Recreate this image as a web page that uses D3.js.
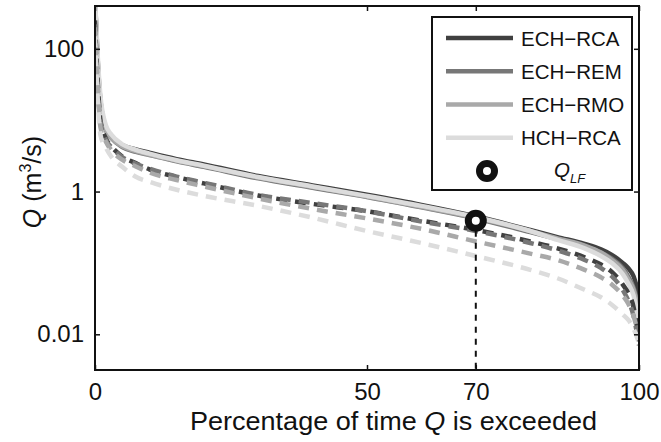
<!DOCTYPE html>
<html>
<head>
<meta charset="utf-8">
<script src="https://d3js.org/d3.v7.min.js"></script>
<style>
  body { margin: 0; background: #fff; }
  svg text { font-family: "Liberation Sans", Arial, sans-serif; fill: #111; }
</style>
</head>
<body>
<div id="chart"></div>
<script>
// Percentage of time Q is exceeded (x values shared by all curves)
const pct = [0, 0.5, 1, 2, 3, 5, 7.5, 10, 15, 20, 30, 40, 50, 60, 70, 80, 85, 90, 93, 95, 97, 98, 99, 100];

// Solid curves (legend series), Q in m3/s
const echRca = [500, 70, 19, 7.8, 6.0, 4.5, 3.9, 3.5, 2.85, 2.4, 1.65, 1.22, 0.9, 0.65, 0.45, 0.29, 0.23, 0.185, 0.155, 0.13, 0.1, 0.085, 0.065, 0.035];
const echRem = [450, 60, 17, 7.2, 5.6, 4.2, 3.6, 3.25, 2.65, 2.22, 1.53, 1.13, 0.84, 0.6, 0.42, 0.27, 0.215, 0.17, 0.14, 0.115, 0.085, 0.065, 0.045, 0.022];
const echRmo = [480, 65, 18, 7.4, 5.7, 4.3, 3.7, 3.3, 2.7, 2.27, 1.57, 1.16, 0.85, 0.61, 0.43, 0.28, 0.22, 0.175, 0.14, 0.11, 0.08, 0.06, 0.042, 0.02];
const hchRca = [520, 80, 22, 8.5, 6.3, 4.6, 3.85, 3.4, 2.75, 2.3, 1.6, 1.18, 0.87, 0.63, 0.44, 0.28, 0.21, 0.16, 0.125, 0.1, 0.07, 0.052, 0.035, 0.015];

// Dashed curves (same models, second period)
const echRcaF = [250, 35, 10, 5.5, 4.3, 3.1, 2.5, 2.05, 1.6, 1.3, 0.88, 0.67, 0.53, 0.39, 0.29, 0.2, 0.16, 0.12, 0.095, 0.075, 0.05, 0.038, 0.024, 0.008];
const echRemF = [220, 30, 9.5, 5.3, 4.2, 3.05, 2.45, 2.1, 1.62, 1.33, 0.9, 0.69, 0.53, 0.38, 0.28, 0.19, 0.15, 0.11, 0.085, 0.065, 0.042, 0.03, 0.018, 0.007];
const echRmoF = [200, 28, 8, 5.0, 3.8, 2.8, 2.25, 1.85, 1.45, 1.18, 0.8, 0.57, 0.42, 0.3, 0.2, 0.135, 0.11, 0.08, 0.063, 0.05, 0.035, 0.027, 0.018, 0.009];
const hchRcaF = [150, 20, 6.2, 4.1, 3.07, 2.22, 1.61, 1.37, 1.06, 0.87, 0.63, 0.43, 0.28, 0.19, 0.125, 0.08, 0.061, 0.042, 0.033, 0.026, 0.019, 0.016, 0.012, 0.0075];

const seriesNames = ['ECH\u2212RCA', 'ECH\u2212REM', 'ECH\u2212RMO', 'HCH\u2212RCA'];
const solidSeries = [echRca, echRem, echRmo, hchRca];
const dashedSeries = [echRcaF, echRemF, echRmoF, hchRcaF];

// Low-flow point
const qlfPct = 70;
const qlfValue = 0.39;

const xTicks = [0, 50, 70, 100];
const yTicks = [100, 1, 0.01];

const colors = ['#404040', '#777777', '#a9a9a9', '#dcdcdc'];

const width = 661, height = 442;
const margin = { top: 6, right: 22, bottom: 72, left: 95 };
const plotW = width - margin.left - margin.right;
const plotH = height - margin.top - margin.bottom;

const svg = d3.select('#chart').append('svg')
    .attr('width', width)
    .attr('height', height)
    .attr('viewBox', `0 0 ${width} ${height}`);

const x = d3.scaleLinear().domain([0, 100]).range([0, plotW]);
const y = d3.scaleLog().domain([0.00316, 398]).range([plotH, 0]);

const g = svg.append('g').attr('transform', `translate(${margin.left},${margin.top})`);

g.append('clipPath').attr('id', 'plot-clip')
  .append('rect').attr('width', plotW).attr('height', plotH);

const line = d3.line()
    .x(d => x(d[0]))
    .y(d => y(d[1]))
    .curve(d3.curveMonotoneX);

const curves = g.append('g').attr('clip-path', 'url(#plot-clip)');

solidSeries.forEach((vals, i) => {
    curves.append('path')
        .datum(pct.map((p, k) => [p, vals[k]]))
        .attr('d', line)
        .attr('fill', 'none')
        .attr('stroke', colors[i])
        .attr('stroke-width', 4.5);
});

dashedSeries.forEach((vals, i) => {
    curves.append('path')
        .datum(pct.map((p, k) => [p, vals[k]]))
        .attr('d', line)
        .attr('fill', 'none')
        .attr('stroke', colors[i])
        .attr('stroke-width', 4.5)
        .attr('stroke-dasharray', '11,8');
});

// Low-flow marker with drop line
g.append('line')
    .attr('x1', x(qlfPct)).attr('x2', x(qlfPct))
    .attr('y1', y(qlfValue) + 10).attr('y2', plotH)
    .attr('stroke', '#111')
    .attr('stroke-width', 2)
    .attr('stroke-dasharray', '6,6');

g.append('circle')
    .attr('cx', x(qlfPct)).attr('cy', y(qlfValue))
    .attr('r', 7.5)
    .attr('fill', '#fff')
    .attr('stroke', '#111')
    .attr('stroke-width', 7);

// Axes (box with inward ticks, matlab style)
const tickLen = 5;
const axisBottom = d3.axisBottom(x).tickValues(xTicks).tickSizeInner(-tickLen).tickSizeOuter(0).tickPadding(13);
const axisTop = d3.axisTop(x).tickValues(xTicks).tickSizeInner(-tickLen).tickSizeOuter(0).tickFormat('');
const axisLeft = d3.axisLeft(y).tickValues(yTicks).tickSizeInner(-tickLen).tickSizeOuter(0).tickPadding(11)
    .tickFormat(d => d3.format('~g')(d));
const axisRight = d3.axisRight(y).tickValues(yTicks).tickSizeInner(-tickLen).tickSizeOuter(0).tickFormat('');

const styleAxis = sel => {
    sel.select('.domain').remove();
    sel.selectAll('.tick line').attr('stroke', '#111').attr('stroke-width', 1.5);
    sel.selectAll('.tick text').attr('font-size', 24).attr('fill', '#111')
        .attr('font-family', '"Liberation Sans", Arial, sans-serif');
};

g.append('g').attr('transform', `translate(0,${plotH})`).call(axisBottom).call(styleAxis);
g.append('g').call(axisTop).call(styleAxis);
g.append('g').call(axisLeft).call(styleAxis);
g.append('g').attr('transform', `translate(${plotW},0)`).call(axisRight).call(styleAxis);

g.append('rect')
    .attr('width', plotW).attr('height', plotH)
    .attr('fill', 'none')
    .attr('stroke', '#111')
    .attr('stroke-width', 2);

// Axis labels
svg.append('text')
    .attr('x', 190)
    .attr('y', 430)
    .attr('font-size', 25)
    .attr('textLength', 407)
    .attr('lengthAdjust', 'spacingAndGlyphs')
    .html('Percentage of time <tspan font-style="italic">Q</tspan> is exceeded');

const yLab = svg.append('text')
    .attr('transform', `translate(41,${margin.top + plotH / 2 - 6}) rotate(-90)`)
    .attr('text-anchor', 'middle')
    .attr('font-size', 25);
yLab.append('tspan').attr('font-style', 'italic').text('Q');
yLab.append('tspan').text(' (m');
yLab.append('tspan').attr('font-size', 16).attr('dy', -10).text('3');
yLab.append('tspan').attr('dy', 10).text('/s)');

// Legend
const legend = svg.append('g').attr('transform', 'translate(432,17)');
legend.append('rect')
    .attr('width', 200).attr('height', 173)
    .attr('fill', '#fff')
    .attr('stroke', '#111')
    .attr('stroke-width', 2);

const rowY = d3.scalePoint().domain(d3.range(5)).range([21, 154]);

seriesNames.forEach((name, i) => {
    legend.append('line')
        .attr('x1', 14).attr('x2', 81)
        .attr('y1', rowY(i)).attr('y2', rowY(i))
        .attr('stroke', colors[i])
        .attr('stroke-width', 4.5);
    legend.append('text')
        .attr('x', 89).attr('y', rowY(i) + 7.5)
        .attr('font-size', 20.5)
        .text(name);
});

legend.append('circle')
    .attr('cx', 55).attr('cy', rowY(4))
    .attr('r', 7.5)
    .attr('fill', '#fff')
    .attr('stroke', '#111')
    .attr('stroke-width', 7);

const qlf = legend.append('text')
    .attr('x', 122).attr('y', rowY(4) + 6)
    .attr('font-size', 20.5)
    .attr('font-style', 'italic');
qlf.append('tspan').text('Q');
qlf.append('tspan').attr('font-size', 13).attr('dy', 6).text('LF');
</script>
</body>
</html>
